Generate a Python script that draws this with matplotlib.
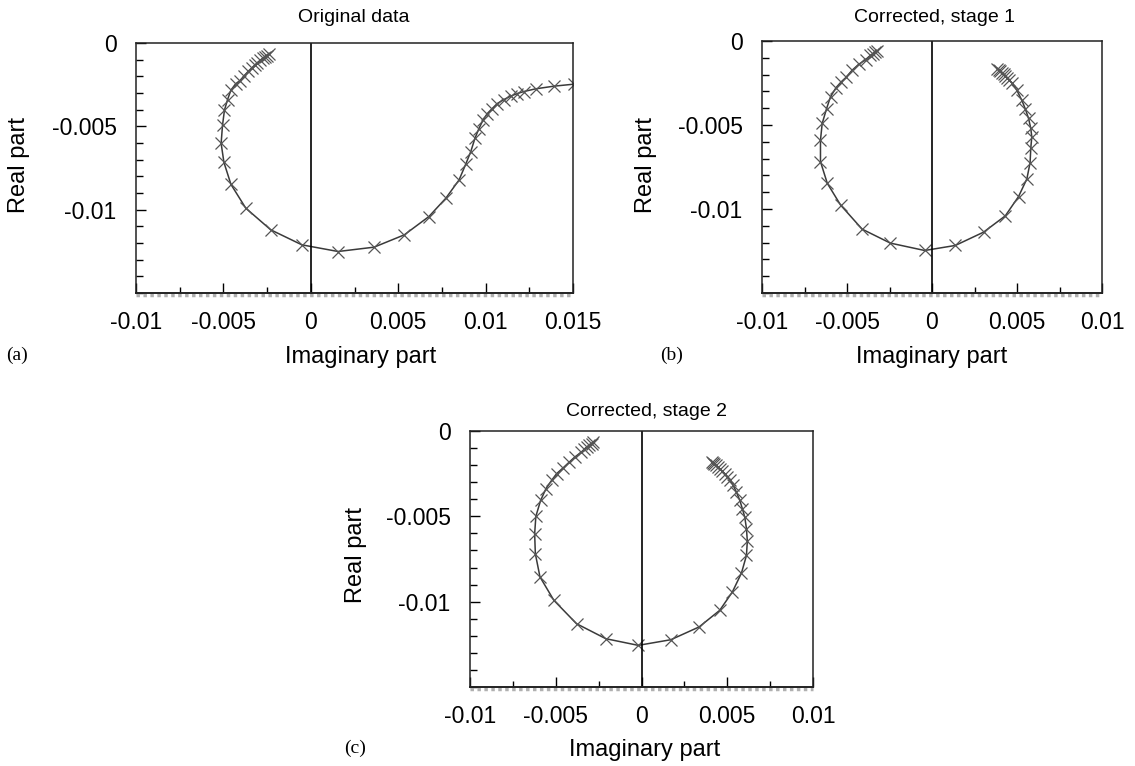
"""Three Nyquist-style panels: original data and two correction stages."""
import matplotlib
matplotlib.use('Agg')
import matplotlib.pyplot as plt
from matplotlib.ticker import FixedLocator, MultipleLocator, FuncFormatter

plt.rcParams['font.family'] = ['Liberation Sans', 'DejaVu Sans']
plt.rcParams['axes.unicode_minus'] = False

# --- data (imaginary part, real part) ---
orig_imag = [-0.00240, -0.00250, -0.00262, -0.00275, -0.00290, -0.00305, -0.00320,
             -0.00338, -0.00358, -0.00380, -0.00405, -0.00430, -0.00457, -0.00476,
             -0.00494, -0.00505, -0.00513, -0.00497, -0.00457, -0.00372, -0.00229,
             -0.00051, 0.00156, 0.00362, 0.00535, 0.00676, 0.00772, 0.00848, 0.00886,
             0.00915, 0.00939, 0.00962, 0.00985, 0.01010, 0.01038, 0.01067, 0.01105,
             0.01143, 0.01181, 0.01220, 0.01286, 0.01391, 0.01505]
orig_real = [-0.00068, -0.00075, -0.00083, -0.00092, -0.00104, -0.00117, -0.00132,
             -0.00150, -0.00170, -0.00195, -0.00225, -0.00245, -0.00283, -0.00339,
             -0.00403, -0.00493, -0.00602, -0.00716, -0.00848, -0.00991, -0.01121,
             -0.01211, -0.01251, -0.01225, -0.01151, -0.01041, -0.00932, -0.00822, -0.00728,
             -0.00652, -0.00572, -0.00513, -0.00463, -0.00423, -0.00393, -0.00363, -0.00339,
             -0.00319, -0.00303, -0.00291, -0.00275, -0.00259, -0.00247]

stage1_imag = [-0.00325, -0.00333, -0.00345, -0.00362, -0.00391, -0.00431, -0.00470,
               -0.00503, -0.00534, -0.00564, -0.00597, -0.00620, -0.00646, -0.00656,
               -0.00656, -0.00616, -0.00538, -0.00411, -0.00245, -0.00043, 0.00137,
               0.00303, 0.00431, 0.00509, 0.00558, 0.00577, 0.00581, 0.00587, 0.00581,
               0.00568, 0.00548, 0.00528, 0.00499, 0.00470, 0.00455, 0.00440, 0.00430,
               0.00421, 0.00411, 0.00401, 0.00392, 0.00382]
stage1_real = [-0.00058, -0.00065, -0.00075, -0.00085, -0.00111, -0.00139, -0.00174,
               -0.00214, -0.00243, -0.00277, -0.00332, -0.00402, -0.00491, -0.00590,
               -0.00718, -0.00847, -0.00976, -0.01120, -0.01203, -0.01247, -0.01217,
               -0.01138, -0.01041, -0.00926, -0.00821, -0.00724, -0.00639, -0.00570, -0.00520,
               -0.00461, -0.00402, -0.00352, -0.00293, -0.00249, -0.00233, -0.00218, -0.00208,
               -0.00198, -0.00188, -0.00178, -0.00171, -0.00164]

stage2_imag = [-0.00280, -0.00291, -0.00305, -0.00320, -0.00335, -0.00350, -0.00388,
               -0.00421, -0.00456, -0.00495, -0.00524, -0.00557, -0.00588, -0.00616,
               -0.00623, -0.00619, -0.00592, -0.00511, -0.00379, -0.00208, -0.00019,
               0.00171, 0.00336, 0.00456, 0.00530, 0.00583, 0.00612, 0.00617, 0.00612,
               0.00602, 0.00588, 0.00573, 0.00553, 0.00534, 0.00515, 0.00500, 0.00485,
               0.00470, 0.00456, 0.00445, 0.00433, 0.00425, 0.00417, 0.00410]
stage2_real = [-0.00066, -0.00074, -0.00084, -0.00094, -0.00108, -0.00123, -0.00152,
               -0.00182, -0.00215, -0.00250, -0.00289, -0.00338, -0.00406, -0.00500,
               -0.00602, -0.00719, -0.00855, -0.00992, -0.01129, -0.01217, -0.01256,
               -0.01223, -0.01148, -0.01051, -0.00943, -0.00832, -0.00729, -0.00645, -0.00572,
               -0.00504, -0.00455, -0.00406, -0.00357, -0.00318, -0.00285, -0.00267, -0.00250,
               -0.00235, -0.00221, -0.00211, -0.00201, -0.00195, -0.00188, -0.00182]

titles = ["Original data", "Corrected, stage 1", "Corrected, stage 2"]
letters = ["(a)", "(b)", "(c)"]
xlims = [(-0.01, 0.015), (-0.01, 0.01), (-0.01, 0.01)]

W, H = 1135, 766
fig = plt.figure(figsize=(W / 100, H / 100), dpi=100)


def px_axes(left, top, right, bottom):
    return fig.add_axes([left / W, 1 - bottom / H, (right - left) / W, (bottom - top) / H])


def px_text(x, y, s, **kw):
    fig.text(x / W, 1 - y / H, s, ha='center', va='center', **kw)


# axes boxes in pixels (left, top, right, bottom) and label anchor points
boxes = [(136, 43, 573, 293), (762, 41, 1102, 293), (470, 431, 813, 687)]
title_pos = [(354, 18), (935, 18), (647, 412)]
ylab_pos = [(19, 165), (646, 165), (356, 555)]
xlab_pos = [(361, 357), (932, 357), (645, 750)]
letter_pos = [(17, 355), (672, 355), (355, 748)]

series = [(orig_imag, orig_real), (stage1_imag, stage1_real), (stage2_imag, stage2_real)]

for i, (xs, ys) in enumerate(series):
    ax = px_axes(*boxes[i])
    ax.plot(xs, ys, color='#3a3a3a', lw=1.1, marker='x', ms=8, mew=0.9,
            mec='#555555', clip_on=True)
    ax.axvline(0, color='black', lw=1.2)
    ax.set_xlim(*xlims[i])
    ax.set_ylim(-0.015, 0)

    ax.xaxis.set_major_locator(MultipleLocator(0.005))
    ax.xaxis.set_minor_locator(MultipleLocator(0.0025))
    ax.yaxis.set_major_locator(FixedLocator([0, -0.005, -0.01]))
    ax.yaxis.set_minor_locator(MultipleLocator(0.001))
    fmt = FuncFormatter(lambda v, p: '0' if abs(v) < 1e-12 else '%g' % v)
    ax.xaxis.set_major_formatter(fmt)
    ax.yaxis.set_major_formatter(fmt)

    ax.tick_params(which='both', direction='in', top=False, right=False,
                   labelsize=16.5, width=1)
    ax.tick_params(axis='x', which='major', length=7, pad=13)
    ax.tick_params(axis='x', which='minor', length=4)
    ax.tick_params(axis='y', which='major', length=7, pad=14)
    ax.tick_params(axis='y', which='minor', length=5)
    for sp in ax.spines.values():
        sp.set_linewidth(1.1)
        sp.set_color('#222222')
    ax.spines['bottom'].set_linewidth(1.4)
    # grey shaded edge under the bottom axis, as in the scanned figure
    ax.plot([0, 1], [-0.008, -0.008], transform=ax.transAxes, color='#b0b0b0',
            lw=2.5, ls=(0, (1, 1)), clip_on=False)

    px_text(*title_pos[i], titles[i], fontsize=14)
    px_text(*ylab_pos[i], "Real part", fontsize=17, rotation=90)
    px_text(*xlab_pos[i], "Imaginary part", fontsize=17)
    px_text(*letter_pos[i], letters[i], fontsize=14, family='Liberation Serif')

plt.savefig("out.png", dpi=100)
